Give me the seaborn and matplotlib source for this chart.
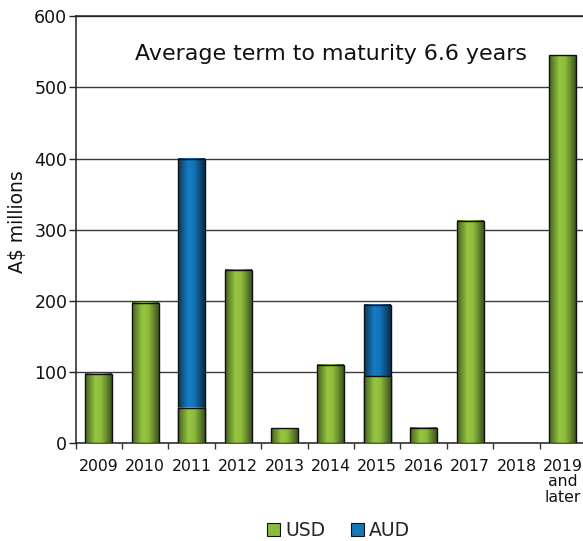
import numpy as np
import pandas as pd
import matplotlib
matplotlib.use("Agg")
import matplotlib.pyplot as plt
import matplotlib.transforms as mtransforms
import seaborn as sns
from matplotlib.colors import LinearSegmentedColormap
from matplotlib.patches import Patch

# Maturity profile, A$ millions
years = ["2009", "2010", "2011", "2012", "2013", "2014", "2015", "2016",
         "2017", "2018", "2019\nand\nlater"]
usd = [98, 197, 50, 244, 21, 110, 94, 22, 313, 0, 545]
aud = [0, 0, 350, 0, 0, 0, 100, 0, 0, 0, 0]
y_ticks = [0, 100, 200, 300, 400, 500, 600]
series_names = ["USD", "AUD"]
note = "Average term to maturity 6.6 years"

sns.set_theme(style="white")
plt.rcParams["font.family"] = ["DejaVu Sans"]

df = pd.DataFrame({"year": years, "USD": usd, "AUD": aud})
df["total"] = df["USD"] + df["AUD"]
df_aud = df[df["AUD"] > 0]

green_mid, blue_mid = "#8dbb3b", "#1476bd"
green_cmap = LinearSegmentedColormap.from_list(
    "green_bar", [(0.0, "#44601f"), (0.38, "#96c540"), (0.6, "#8fbd3c"), (1.0, "#3d5320")])
blue_cmap = LinearSegmentedColormap.from_list(
    "blue_bar", [(0.0, "#0d3857"), (0.38, "#167cc4"), (0.6, "#1273b8"), (1.0, "#0b2c48")])

fig = plt.figure(figsize=(5.83, 5.41), dpi=100)
ax = fig.add_axes([0.1298, 0.1806, 0.8755, 0.7893])

bar_kw = dict(x="year", order=years, width=0.58, edgecolor="#111111",
              linewidth=1.0, saturation=1, ax=ax)
# AUD stacked on USD: draw totals in blue, then USD over them in green
sns.barplot(data=df_aud, y="total", color=blue_mid, **bar_kw)
n_blue = len(ax.patches)
sns.barplot(data=df, y="USD", color=green_mid, **bar_kw)

# horizontal shading across each bar
grad = np.linspace(0, 1, 200).reshape(1, -1)
for i, p in enumerate(list(ax.patches)):
    x0, y0 = p.get_x(), p.get_y()
    w, h = p.get_width(), p.get_height()
    if not np.isfinite(h) or h <= 0:
        p.set_visible(False)
        continue
    base = 2 if i < n_blue else 3
    cmap = blue_cmap if i < n_blue else green_cmap
    ax.imshow(grad, cmap=cmap, extent=(x0, x0 + w, y0, y0 + h),
              aspect="auto", zorder=base, interpolation="bilinear")
    p.set_facecolor("none")
    p.set_zorder(base + 0.5)

ax.set_xlim(-0.5, len(years) - 0.5)
ax.set_ylim(0, 600)
ax.set_yticks(y_ticks)
ax.set_axisbelow(True)
ax.yaxis.grid(True, color="#3a3a3a", linewidth=1.0)
ax.xaxis.grid(False)

for side in ["left", "bottom", "top"]:
    ax.spines[side].set_color("#222222")
    ax.spines[side].set_linewidth(1.1)
ax.spines["right"].set_visible(False)

ax.set_xticks(np.arange(-0.5, len(years), 1), minor=True)
ax.tick_params(axis="x", which="major", length=0, pad=11, labelsize=11.3,
               labelcolor="#111111")
ax.tick_params(axis="x", which="minor", bottom=True, length=4, width=1,
               color="#333333")
ax.tick_params(axis="y", left=True, length=5, width=1, color="#222222",
               pad=1, labelsize=12.5, labelcolor="#111111")
for lbl in ax.get_xticklabels():
    lbl.set_linespacing(1.05)

ax.set_xlabel("")
ax.set_ylabel("A$ millions", fontsize=13.5, color="#111111")
ax.yaxis.set_label_coords(-0.095, 0.518)

# note centered horizontally in the axes, placed vertically in data units
note_tf = mtransforms.blended_transform_factory(ax.transAxes, ax.transData)
ax.text(0.5, 538.6, note, transform=note_tf, ha="center",
        va="baseline", fontsize=15.9, color="#111111")

handles = [Patch(facecolor=green_mid, edgecolor="#111111", linewidth=0.8),
           Patch(facecolor=blue_mid, edgecolor="#111111", linewidth=0.8)]
fig.legend(handles, series_names, loc="center", bbox_to_anchor=(0.581, 0.0185),
           ncol=2, frameon=False, fontsize=13.5, handlelength=0.7,
           handleheight=0.7, handletextpad=0.27, columnspacing=1.35,
           borderpad=0, borderaxespad=0)

fig.savefig("out.png", dpi=100)
